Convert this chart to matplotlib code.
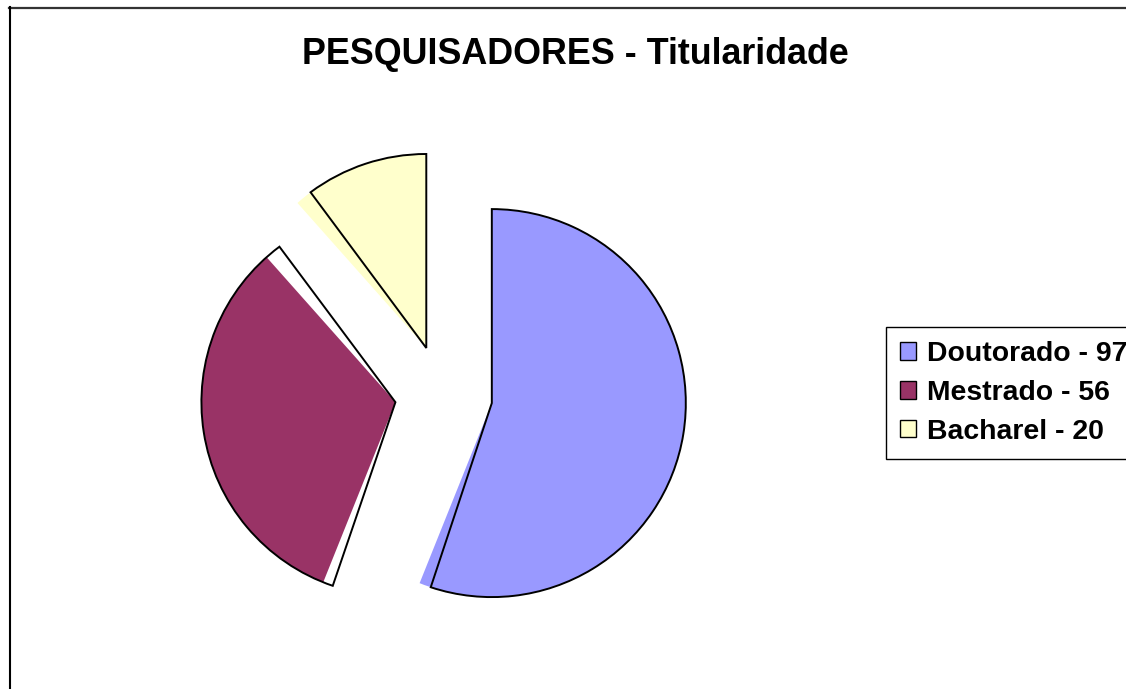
import matplotlib
matplotlib.use("Agg")
import matplotlib.pyplot as plt
from matplotlib.patches import Wedge, Patch
from matplotlib.lines import Line2D

plt.rcParams['font.family'] = ['Liberation Sans', 'DejaVu Sans']

# Data
categories = ["Doutorado", "Mestrado", "Bacharel"]
values = [97, 56, 20]
colors = ["#9999FF", "#993366", "#FFFFCC"]
title = "PESQUISADORES - Titularidade"

# Style / layout (pixel coordinates, y up)
W, H = 1126, 689
center = (443.7, H - 393.8)
radius = 194
explode_dist = 49
# slight angular mismatch between outline and fill, as in the reference rendering
outline_skew = [(3.5, 0.0), (-4.9, 3.0), (0.0, -5.0)]

fig = plt.figure(figsize=(W / 100, H / 100), dpi=100)
ax = fig.add_axes([0, 0, 1, 1])

wedges, _ = ax.pie(values, colors=colors, startangle=90, counterclock=False,
                   center=center, radius=radius,
                   explode=[explode_dist] * len(values),
                   wedgeprops=dict(linewidth=0, edgecolor='none'),
                   frame=True)
ax.set_xlim(0, W)
ax.set_ylim(0, H)
ax.set_aspect('equal')
ax.axis('off')

for w, (d1, d2) in zip(wedges, outline_skew):
    ow = Wedge(w.center, w.r, w.theta1 + d1, w.theta2 + d2,
               fill=False, edgecolor='black', linewidth=1.4, zorder=3)
    ax.add_patch(ow)

# Chart area border (top and left visible)
ax.add_line(Line2D([9, W], [H - 7.5, H - 7.5], color='#333333', linewidth=1.6))
ax.add_line(Line2D([9.5, 9.5], [0, H - 7], color='black', linewidth=1.5))

ax.text(575.5, H - 54, title, ha='center', va='center', fontsize=25.8,
        fontweight='bold', color='black')

handles = [Patch(facecolor=c, edgecolor='black', linewidth=1.0) for c in colors]
labels = [f"{c} - {v}" for c, v in zip(categories, values)]
leg = fig.legend(handles, labels, loc='upper left',
                 bbox_to_anchor=(886 / W, 1 - 327 / H), borderaxespad=0,
                 frameon=True, fancybox=False, framealpha=1, edgecolor='black',
                 prop=dict(size=20.4, weight='bold'),
                 handlelength=0.57, handleheight=0.57, handletextpad=0.36,
                 borderpad=0.5, labelspacing=0.45)
leg.get_frame().set_linewidth(1.0)

fig.savefig("out.png", dpi=100)
